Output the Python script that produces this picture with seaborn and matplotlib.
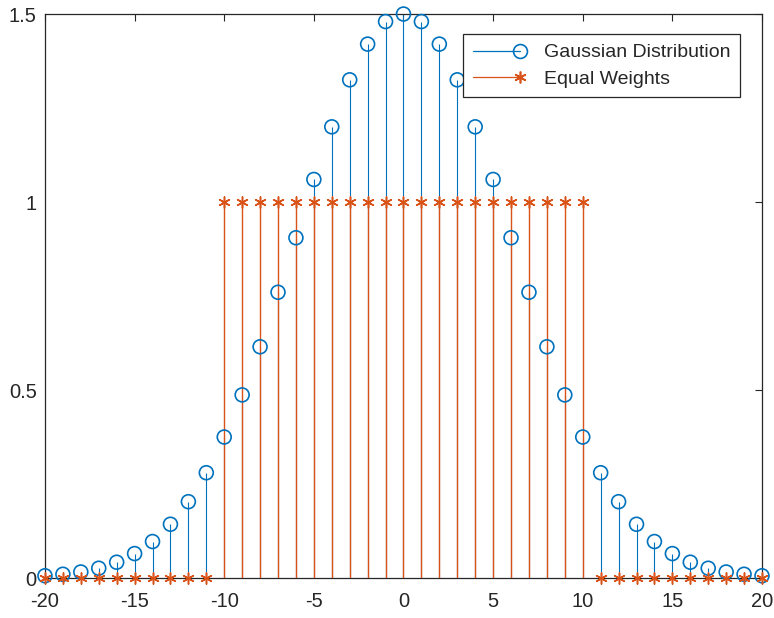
import numpy as np
import pandas as pd
import matplotlib
matplotlib.use("Agg")
import matplotlib.pyplot as plt
import seaborn as sns
from matplotlib.lines import Line2D
from matplotlib.legend_handler import HandlerBase

# data
x = list(range(-20, 21))
gauss_half = [1.5, 1.48, 1.42, 1.325, 1.2, 1.06, 0.905, 0.76, 0.615, 0.487, 0.375,
              0.28, 0.203, 0.143, 0.097, 0.065, 0.042, 0.026, 0.016, 0.01, 0.006]
gaussian = gauss_half[:0:-1] + gauss_half
equal = [0] * 10 + [1] * 21 + [0] * 10
xtick_labels = ["-20", "-15", "-10", "-5", "0", "5", "10", "15", "20"]
ytick_labels = ["0", "0.5", "1", "1.5"]

df = pd.DataFrame({"x": x, "Gaussian Distribution": gaussian, "Equal Weights": equal})

blue = "#0072BD"
orange = "#D95319"

sns.set_style("white")
plt.rcParams["font.family"] = ["Liberation Sans", "DejaVu Sans"]

fig = plt.figure(figsize=(7.74, 6.18), dpi=100)
ax = fig.add_axes([0.0581, 0.0647, 0.9264, 0.9126])

# stems
ax.vlines(df["x"], 0, df["Gaussian Distribution"], color=blue, lw=0.8, zorder=2)
ax.vlines(df["x"], 0, df["Equal Weights"], color=orange, lw=1.0, zorder=3)

# markers
sns.scatterplot(data=df, x="x", y="Gaussian Distribution", ax=ax, marker="o",
                s=100, facecolor="none", edgecolor=blue, linewidth=1.2,
                clip_on=False, zorder=4, legend=False)
sns.scatterplot(data=df, x="x", y="Equal Weights", ax=ax, marker=(6, 2, 0),
                s=65, color=orange, edgecolor=orange, linewidth=1.1,
                clip_on=False, zorder=5, legend=False)

ax.set_xlim(-20, 20)
ax.set_ylim(0, 1.5)
ax.set_xticks(range(-20, 21, 5))
ax.set_xticklabels(xtick_labels)
ax.set_yticks([0, 0.5, 1, 1.5])
ax.set_yticklabels(ytick_labels)
ax.set_xlabel("")
ax.set_ylabel("")
ax.tick_params(direction="in", length=5, width=0.8, labelsize=14.5, colors="#262626",
               top=True, right=True)
ax.tick_params(axis="x", pad=10)
ax.tick_params(axis="y", pad=6)
for sp in ax.spines.values():
    sp.set_visible(True)
    sp.set_color("#262626")
    sp.set_linewidth(0.9)


class StemHandler(HandlerBase):
    def __init__(self, marker, ms, color):
        super().__init__()
        self.marker, self.ms, self.color = marker, ms, color

    def create_artists(self, legend, orig_handle, xdescent, ydescent, width, height,
                       fontsize, trans):
        y = height / 2 - ydescent
        line = Line2D([-xdescent, -xdescent + width], [y, y], color=self.color, lw=0.9)
        mark = Line2D([-xdescent + width], [y], marker=self.marker, ms=self.ms,
                      mfc="none", mec=self.color, mew=1.2, ls="none")
        line.set_transform(trans)
        mark.set_transform(trans)
        return [line, mark]


h1 = Line2D([], [], color=blue)
h2 = Line2D([], [], color=orange)
leg = ax.legend([h1, h2], ["Gaussian Distribution", "Equal Weights"],
                handler_map={h1: StemHandler("o", 10, blue), h2: StemHandler((6, 2, 0), 8.5, orange)},
                loc="upper right", bbox_to_anchor=(0.9695, 0.9645), fontsize=14,
                frameon=True, fancybox=False, framealpha=1, edgecolor="#262626",
                handlelength=2.4, handletextpad=1.25, borderpad=0.5, labelspacing=0.45,
                borderaxespad=0)
leg.get_frame().set_linewidth(0.9)
leg.set_zorder(10)

fig.savefig("out.png", dpi=100)
